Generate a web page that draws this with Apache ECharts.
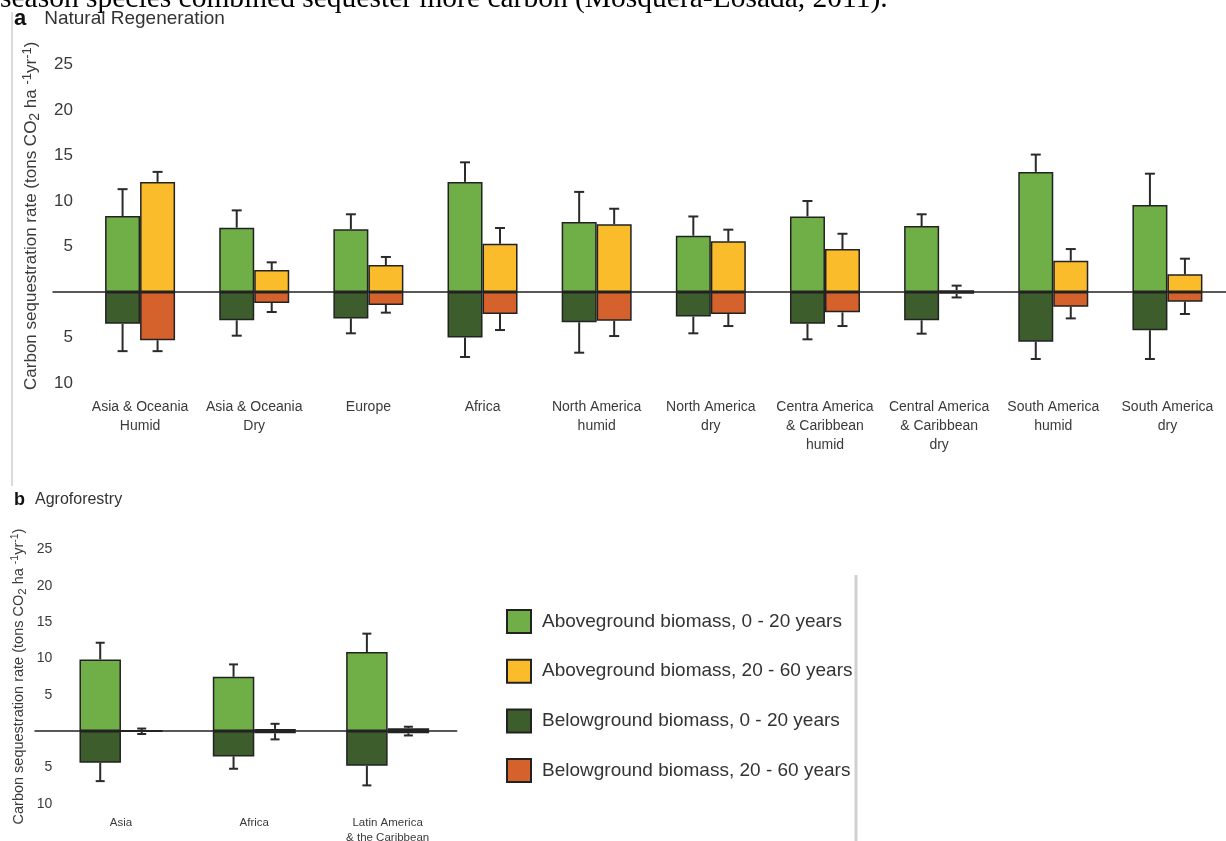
<!DOCTYPE html>
<html>
<head>
<meta charset="utf-8">
<script src="https://cdn.jsdelivr.net/npm/echarts@6/dist/echarts.min.js"></script>
<style>
  html, body { margin: 0; padding: 0; background: #fff; }
  #chart { width: 1226px; height: 841px; }
</style>
</head>
<body>
<div id="chart"></div>
<script>
// panel a: natural regeneration
var aCats = ['Asia & Oceania\nHumid', 'Asia & Oceania\nDry', 'Europe', 'Africa', 'North America\nhumid',
  'North America\ndry', 'Centra America\n& Caribbean\nhumid', 'Central America\n& Caribbean\ndry',
  'South America\nhumid', 'South America\ndry']
var aYoungAbove = [8.35, 7.07, 6.9, 12.1, 7.69, 6.19, 8.3, 7.25, 13.2, 9.56]
var aYoungAboveErr = [11.3, 8.97, 8.54, 14.25, 11.0, 8.3, 10.0, 8.54, 15.1, 13.0]
var aOldAbove = [12.1, 2.42, 2.97, 5.3, 7.44, 5.57, 4.72, 0.2, 3.44, 1.94]
var aOldAboveErr = [13.2, 3.26, 3.85, 7.03, 9.15, 6.85, 6.4, 0.7, 4.72, 3.66]
var aYoungBelow = [3.5, 3.11, 2.9, 5.0, 3.33, 2.7, 3.5, 3.11, 5.46, 4.2]
var aYoungBelowErr = [6.5, 4.8, 4.54, 7.14, 6.67, 4.54, 5.2, 4.58, 7.36, 7.36]
var aOldBelow = [5.3, 1.21, 1.43, 2.42, 3.15, 2.42, 2.23, 0.2, 1.61, 1.06]
var aOldBelowErr = [6.5, 2.2, 2.27, 4.18, 4.84, 3.74, 3.74, 0.6, 2.9, 2.42]

// panel b: agroforestry
var bCats = ['Asia', 'Africa', 'Latin America\n& the Caribbean']
var bYoungAbove = [9.86, 7.47, 10.87]
var bYoungAboveErr = [12.15, 9.17, 13.4]
var bOldAbove = [0, 0.3, 0.4]
var bOldAboveErr = [0.35, 1.0, 0.6]
var bYoungBelow = [4.36, 3.48, 4.77]
var bYoungBelowErr = [6.88, 5.18, 7.47]
var bOldBelow = [0, 0.3, 0.3]
var bOldBelowErr = [0.4, 1.14, 0.6]

var yTicks = { min: -10, max: 25, interval: 5 }

var names = ['Aboveground biomass, 0 - 20 years', 'Aboveground biomass, 20 - 60 years',
  'Belowground biomass, 0 - 20 years', 'Belowground biomass, 20 - 60 years']
var colors = ['#70ae48', '#fbbc2c', '#3d5d2c', '#d5612c']

var neg = function (arr) { return arr.map(function (v) { return -v }) }

// error bar rows: [category, bar end, whisker end, side]
function errRows(yA, yAE, oA, oAE, yB, yBE, oB, oBE) {
  var rows = []
  yA.forEach(function (v, i) {
    rows.push([i, yA[i], yAE[i], -1])
    rows.push([i, -yB[i], -yBE[i], -1])
    rows.push([i, oA[i], oAE[i], 1])
    rows.push([i, -oB[i], -oBE[i], 1])
  })
  return rows
}

function errRender(halfBar, cap) {
  return function (params, api) {
    var p0 = api.coord([api.value(0), api.value(1)])
    var p1 = api.coord([api.value(0), api.value(2)])
    var x = p0[0] + api.value(3) * halfBar
    var st = { stroke: '#2a2a2a', lineWidth: 2 }
    return {
      type: 'group',
      children: [
        { type: 'line', shape: { x1: x, y1: p0[1], x2: x, y2: p1[1] }, style: st },
        { type: 'line', shape: { x1: x - cap, y1: p1[1], x2: x + cap, y2: p1[1] }, style: st }
      ]
    }
  }
}

function bars(gi, w, yA, oA, yB, oB) {
  var list = [
    { name: names[0], data: yA, stack: 'young' + gi, color: colors[0] },
    { name: names[1], data: oA, stack: 'old' + gi, color: colors[1] },
    { name: names[2], data: neg(yB), stack: 'young' + gi, color: colors[2] },
    { name: names[3], data: neg(oB), stack: 'old' + gi, color: colors[3] }
  ]
  return list.map(function (s) {
    return {
      type: 'bar', name: s.name, data: s.data, stack: s.stack,
      xAxisIndex: gi, yAxisIndex: gi, barWidth: w, barGap: '0%',
      itemStyle: { color: s.color, borderColor: '#222', borderWidth: 1.5 },
      z: 2
    }
  })
}

var yName = '{t|Carbon sequestration rate (tons CO}{s|2}{t| ha }{p|-1}{t|yr}{p|-1}{t|)}'
function nameRich(fs) {
  return {
    t: { fontSize: fs, color: '#3a3a3a', fontFamily: 'Liberation Sans' },
    s: { fontSize: fs - 3, color: '#3a3a3a', fontFamily: 'Liberation Sans', padding: [8, 0, 0, 0] },
    p: { fontSize: fs - 4, color: '#3a3a3a', fontFamily: 'Liberation Sans', padding: [0, 0, 8, 0] }
  }
}

function valueAxis(gi, fs, margin, gap, nfs, shift) {
  return {
    gridIndex: gi, type: 'value', min: yTicks.min, max: yTicks.max, interval: yTicks.interval,
    axisLine: { show: false }, axisTick: { show: false }, splitLine: { show: false },
    axisLabel: {
      fontSize: fs, color: '#3a3a3a', fontFamily: 'Liberation Sans', margin: margin,
      formatter: function (v) { return v === 0 ? '' : String(Math.abs(v)) }
    },
    name: yName, nameLocation: 'middle', nameRotate: 90, nameGap: gap,
    nameTextStyle: { rich: nameRich(nfs), padding: [0, 0, 0, shift] }
  }
}

function lineAxes(gi) {
  return {
    x: {
      gridIndex: gi, type: 'value', min: 0, max: 1,
      axisLabel: { show: false }, axisTick: { show: false }, splitLine: { show: false },
      axisLine: { show: true, onZero: true, lineStyle: { color: '#222', width: 1.5 } }
    },
    y: { gridIndex: gi, type: 'value', min: yTicks.min, max: yTicks.max, show: false }
  }
}

var la = lineAxes(1)
var lb = lineAxes(3)

var chart = echarts.init(document.getElementById('chart'))
chart.setOption({
  animation: false,
  backgroundColor: '#fff',
  textStyle: { fontFamily: 'Liberation Sans' },
  grid: [
    { left: 83, right: 1.5, top: 64.5, height: 318.5, outerBoundsMode: 'none' },
    { left: 53, right: 0, top: 64.5, height: 318.5, outerBoundsMode: 'none' },
    { left: 54.3, width: 400, top: 549.3, height: 254.5, outerBoundsMode: 'none' },
    { left: 35, width: 421.7, top: 549.3, height: 254.5, outerBoundsMode: 'none' }
  ],
  xAxis: [
    {
      gridIndex: 0, type: 'category', data: aCats,
      axisLine: { show: false }, axisTick: { show: false },
      axisLabel: { interval: 0, fontSize: 14, lineHeight: 19, margin: 15, color: '#3a3a3a' }
    },
    la.x,
    {
      gridIndex: 2, type: 'category', data: bCats,
      axisLine: { show: false }, axisTick: { show: false },
      axisLabel: { interval: 0, fontSize: 11.5, lineHeight: 15, margin: 12, color: '#3a3a3a' }
    },
    lb.x
  ],
  yAxis: [
    valueAxis(0, 17, 10, 41, 17, 16),
    la.y,
    valueAxis(2, 14, 2, 25, 14.5, 0),
    lb.y
  ],
  legend: {
    data: names, orient: 'vertical', left: 506, top: 609, padding: 0,
    itemWidth: 24, itemHeight: 23, itemGap: 24.7, selectedMode: false,
    icon: 'rect',
    textStyle: { fontSize: 19, lineHeight: 23, color: '#333', padding: [0, 0, 0, 6] }
  },
  graphic: [
    {
      type: 'text', left: 0, top: -16,
      style: { text: 'season species combined sequester more carbon (Mosquera-Losada, 2011).',
        font: '29.5px "Liberation Serif"', fill: '#000' }
    },
    {
      type: 'text', left: 14, top: 8,
      style: { text: '{b|a}{n|Natural Regeneration}',
        rich: { b: { font: 'bold 22px "Liberation Sans"', fill: '#111' },
          n: { font: '19px "Liberation Sans"', fill: '#333', padding: [0, 0, 0, 18] } } }
    },
    {
      type: 'text', left: 14, top: 491,
      style: { text: '{b|b}{n|Agroforestry}',
        rich: { b: { font: 'bold 18px "Liberation Sans"', fill: '#111' },
          n: { font: '16px "Liberation Sans"', fill: '#333', padding: [0, 0, 0, 10] } } }
    },
    { type: 'line', shape: { x1: 12, y1: 12, x2: 12, y2: 486 }, style: { stroke: '#cfcfcf', lineWidth: 1.5 } },
    { type: 'line', shape: { x1: 856, y1: 575, x2: 856, y2: 841 }, style: { stroke: '#d0d0d0', lineWidth: 3 } }
  ],
  series: [].concat(
    bars(0, 35, aYoungAbove, aOldAbove, aYoungBelow, aOldBelow),
    bars(2, 41.5, bYoungAbove, bOldAbove, bYoungBelow, bOldBelow),
    [
      {
        type: 'custom', xAxisIndex: 0, yAxisIndex: 0, z: 3, silent: true,
        renderItem: errRender(17.5, 5),
        data: errRows(aYoungAbove, aYoungAboveErr, aOldAbove, aOldAboveErr,
          aYoungBelow, aYoungBelowErr, aOldBelow, aOldBelowErr)
      },
      {
        type: 'custom', xAxisIndex: 2, yAxisIndex: 2, z: 3, silent: true,
        renderItem: errRender(20.75, 4.5),
        data: errRows(bYoungAbove, bYoungAboveErr, bOldAbove, bOldAboveErr,
          bYoungBelow, bYoungBelowErr, bOldBelow, bOldBelowErr)
      }
    ]
  )
})
</script>
</body>
</html>
